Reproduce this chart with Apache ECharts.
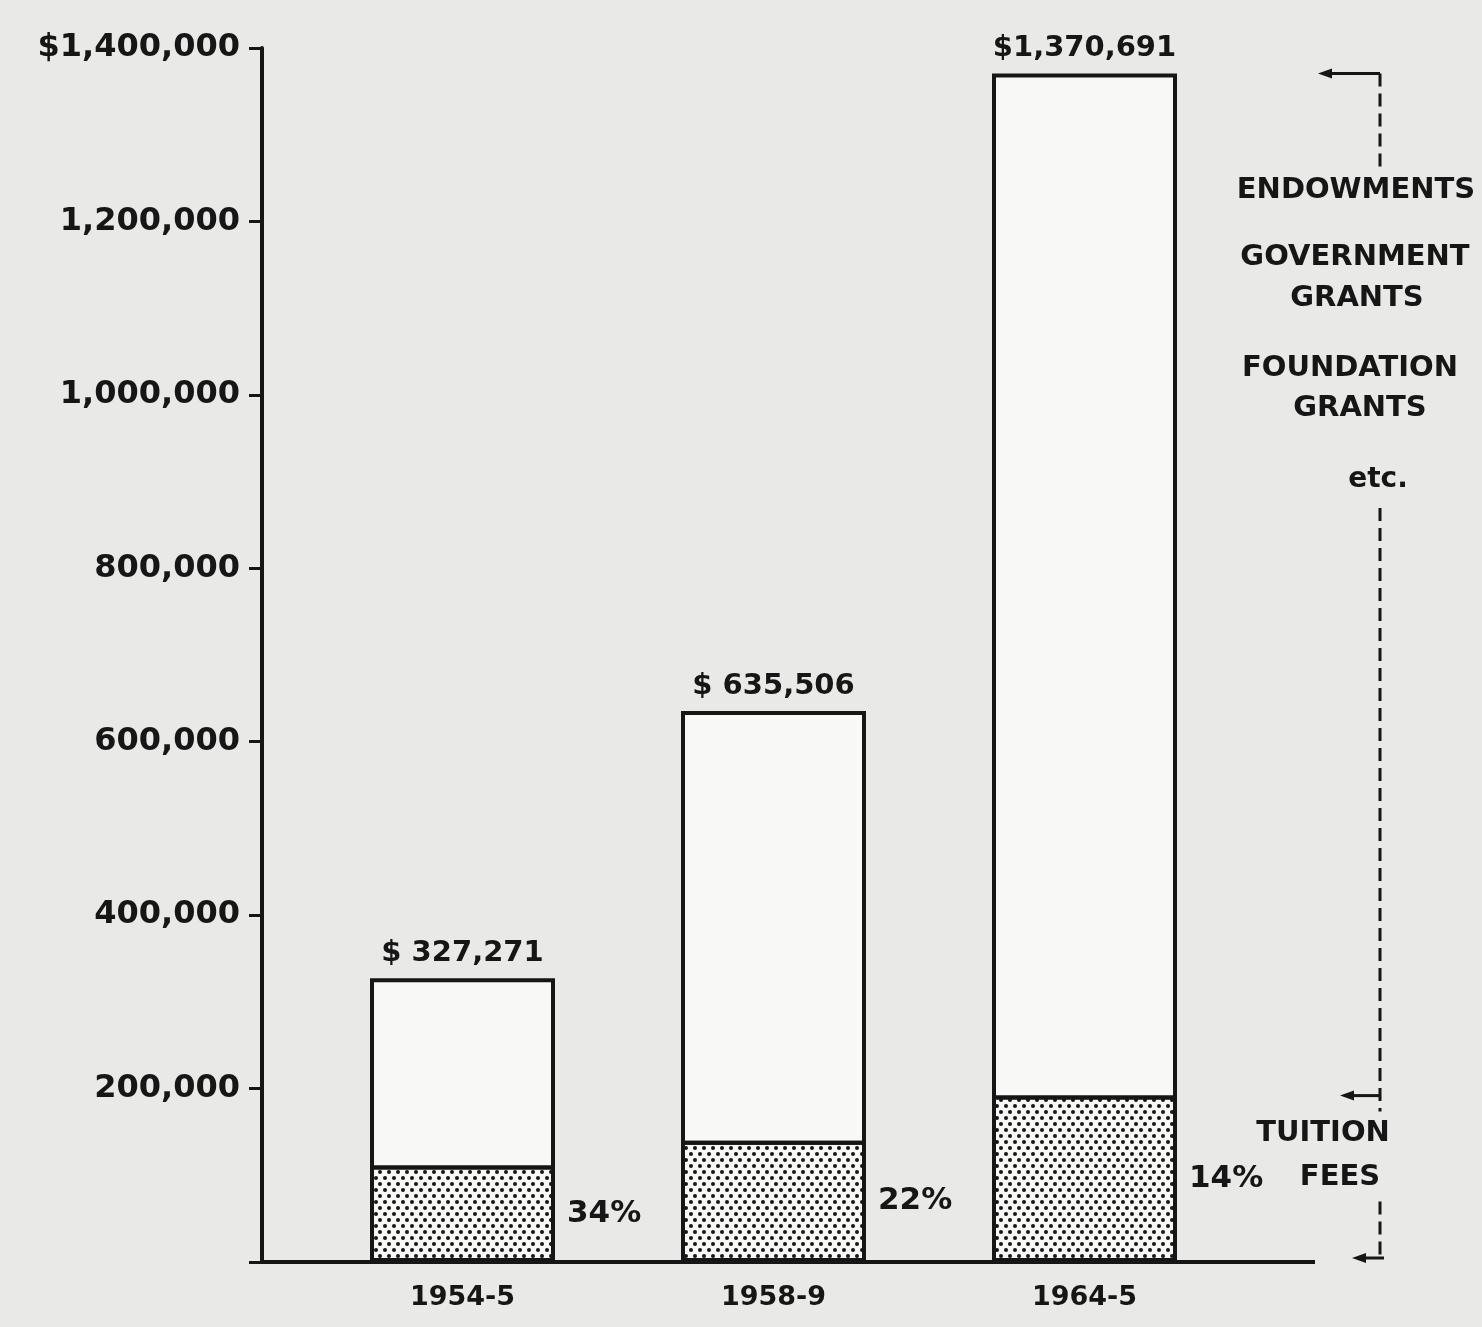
<!DOCTYPE html>
<html>
<head>
<meta charset="utf-8">
<script src="https://cdn.jsdelivr.net/npm/echarts@6/dist/echarts.min.js"></script>
<style>
  html, body { margin: 0; padding: 0; background: #e9e9e7; }
  #c { width: 1482px; height: 1327px; }
</style>
</head>
<body>
<div id="c"></div>
<script>
// ---- data ----
const categories = ['1954-5', '1958-9', '1964-5'];
const totalIncome = [327271, 635506, 1370691];
const totalLabels = ['$ 327,271', '$ 635,506', '$1,370,691'];
const tuitionFees = [111272, 139811, 191897];
const tuitionShare = ['34%', '22%', '14%'];
const yTickLabels = ['', '200,000', '400,000', '600,000', '800,000', '1,000,000', '1,200,000', '$1,400,000'];
const otherSourcesText = ['ENDOWMENTS', 'GOVERNMENT', 'GRANTS', 'FOUNDATION', 'GRANTS', 'etc.'];
const tuitionText = ['TUITION', 'FEES'];

// ---- styling / layout ----
const INK = '#161616';
const PAPER = '#e9e9e7';
const FILL = '#f8f8f6';
const FONT = 'DejaVu Sans';
const GRID = { left: 307, right: 242, top: 48, bottom: 65 };
const Y_OFFSET = 45;

const chart = echarts.init(document.getElementById('c'));

chart.setOption({
  backgroundColor: PAPER,
  animation: false,
  grid: GRID,
  xAxis: {
    type: 'category',
    data: categories,
    axisLine: { show: false },
    axisTick: { show: false },
    axisLabel: { color: INK, fontFamily: FONT, fontWeight: 'bold', fontSize: 27, margin: 22 }
  },
  yAxis: {
    type: 'value',
    min: 0, max: 1400000, interval: 200000,
    offset: Y_OFFSET,
    axisLine: { show: true, lineStyle: { color: INK, width: 4 } },
    axisTick: { show: true, length: 13, lineStyle: { color: INK, width: 3 } },
    splitLine: { show: false },
    axisLabel: {
      margin: 22, color: INK, fontFamily: FONT, fontWeight: 'bold', fontSize: 32,
      formatter: v => yTickLabels[Math.round(v / 200000)]
    }
  },
  series: [
    {
      name: 'Total income', type: 'bar', data: totalIncome,
      barWidth: 185, barGap: '-100%',
      itemStyle: { color: FILL, borderColor: INK, borderWidth: 4 },
      label: {
        show: true, position: 'top', distance: 10,
        formatter: p => totalLabels[p.dataIndex],
        color: INK, fontFamily: FONT, fontWeight: 'bold', fontSize: 29
      }
    },
    {
      name: 'Tuition fees', type: 'bar', data: tuitionFees,
      barWidth: 185, barGap: '-100%',
      itemStyle: {
        color: FILL, borderColor: INK, borderWidth: 4,
        decal: {
          symbol: 'circle', symbolSize: 1, color: INK,
          dashArrayX: [[4, 5], [0, 5, 4, 0]],
          dashArrayY: [4, 2],
          rotation: 0
        }
      },
      label: {
        show: true, position: 'right', distance: 12,
        formatter: p => tuitionShare[p.dataIndex],
        color: INK, fontFamily: FONT, fontWeight: 'bold', fontSize: 31
      }
    }
  ]
});

// ---- annotation bracket on the right, positioned via the value axis ----
const yPix = v => chart.convertToPixel({ yAxisIndex: 0 }, v);
const yBase = yPix(0);
const yTop = yPix(totalIncome[2]);
const yTu = yPix(tuitionFees[2]);
const axisX = GRID.left - Y_OFFSET;
const BX = 1380;

function arrow(xFrom, xTo, y) {
  return [
    { type: 'line', shape: { x1: xFrom, y1: y, x2: xTo + 10, y2: y }, style: { stroke: INK, lineWidth: 3 } },
    { type: 'polygon', shape: { points: [[xTo, y], [xTo + 14, y - 5], [xTo + 14, y + 5]] }, style: { fill: INK } }
  ];
}
function dashed(y1, y2) {
  return { type: 'line', shape: { x1: BX, y1: y1, x2: BX, y2: y2 }, style: { stroke: INK, lineWidth: 3, lineDash: [13, 7] } };
}
function txt(s, x, y, size) {
  return { type: 'text', x: x, y: y, style: { text: s, fill: INK, font: 'bold ' + (size || 29) + 'px "DejaVu Sans"', textAlign: 'center', textVerticalAlign: 'middle' } };
}

const g = [];
g.push({ type: 'line', shape: { x1: axisX - 2, y1: yBase, x2: 1315, y2: yBase }, style: { stroke: INK, lineWidth: 4 } });
g.push(...arrow(BX, 1318, yTop));
g.push(dashed(yTop, 172));
g.push(txt(otherSourcesText[0], 1356, 190));
g.push(txt(otherSourcesText[1], 1355, 257));
g.push(txt(otherSourcesText[2], 1357, 298));
g.push(txt(otherSourcesText[3], 1350, 368));
g.push(txt(otherSourcesText[4], 1360, 408));
g.push(txt(otherSourcesText[5], 1378, 480, 28));
g.push(dashed(508, yTu + 16));
g.push(...arrow(BX, 1340, yTu));
g.push(txt(tuitionText[0], 1323, yTu + 38));
g.push(txt(tuitionText[1], 1340, yTu + 82));
g.push(dashed(yTu + 106, yBase - 4));
g.push(...arrow(BX + 4, 1352, yBase - 4));

chart.setOption({ graphic: g });
</script>
</body>
</html>
